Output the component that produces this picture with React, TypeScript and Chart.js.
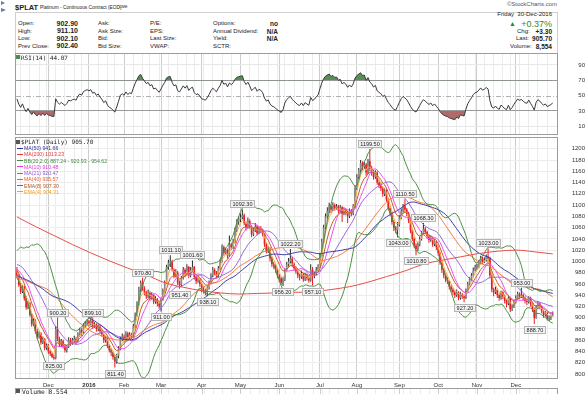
import React, { useEffect, useRef } from 'react';
import { Chart, registerables } from 'chart.js';

Chart.register(...registerables);

const FONT = '"Liberation Sans", Arial, sans-serif';
const MONO = '"DejaVu Sans Mono", monospace';

// closes of the sessions before the first drawn bar (they only feed the indicators)
const warmupCloses = [
  1000, 1005, 1010, 1020, 1018,
  1005, 998, 995, 988, 980, 972, 975, 968, 962, 958, 972, 980, 978, 960, 952, 935, 928, 922, 915, 905, 910,
  905, 912, 925, 940, 955, 972, 990, 1005, 1015, 1020, 1012, 1008, 1004, 996, 1000, 992, 985, 988, 992, 996, 980, 985,
  988, 990, 982,
];

// daily bars, 5-Nov-2015 .. 30-Dec-2016
const opens = [
  982, 975, 958, 946, 954, 934, 918, 926, 905, 888,
  895, 876, 866, 872, 856, 862, 846, 851, 840, 836,
  830, 828, 880, 862, 852, 858, 850, 842, 848, 860,
  856, 860, 862, 858, 870, 878, 874, 886, 890, 893,
  890, 894, 885, 888, 880, 884, 876, 870, 860, 864,
  850, 842, 838, 830, 822, 832, 845, 862, 866, 862,
  872, 865, 870, 868, 885, 905, 925, 950, 962, 952,
  945, 938, 944, 935, 940, 928, 932, 925, 920, 932,
  948, 962, 990, 998, 1000, 985, 975, 980, 962, 958,
  970, 985, 978, 990, 975, 985, 990, 972, 965, 968,
  960, 950, 948, 945, 952, 962, 975, 985, 980, 975,
  988, 1000, 1025, 1015, 1020, 1010, 1030, 1025, 1035, 1055,
  1070, 1075, 1078, 1082, 1068, 1060, 1072, 1062, 1048, 1055,
  1062, 1050, 1058, 1055, 1048, 1030, 1018, 1022, 1005, 995,
  992, 985, 975, 970, 962, 968, 985, 995, 1000, 1005,
  995, 988, 982, 975, 972, 978, 968, 975, 970, 966,
  985, 975, 978, 985, 990, 1010, 1035, 1060, 1080, 1090,
  1098, 1092, 1100, 1095, 1098, 1090, 1096, 1085, 1092, 1088,
  1080, 1090, 1085, 1098, 1130, 1150, 1162, 1175, 1168, 1172,
  1158, 1178, 1165, 1160, 1150, 1158, 1140, 1135, 1130, 1120,
  1125, 1110, 1095, 1085, 1070, 1060, 1055, 1065, 1078, 1090,
  1098, 1092, 1085, 1072, 1055, 1040, 1028, 1022, 1030, 1040,
  1050, 1058, 1052, 1045, 1038, 1042, 1030, 1035, 1025, 1015,
  998, 985, 975, 968, 965, 955, 950, 945, 940, 945,
  935, 942, 938, 935, 948, 960, 968, 975, 985, 990,
  992, 998, 1005, 1000, 1003, 1008, 1005, 975, 950, 945,
  950, 940, 935, 945, 938, 930, 925, 935, 915, 920,
  928, 935, 942, 938, 940, 935, 930, 928, 935, 925,
  915, 900, 918, 925, 920, 912, 905, 908, 898, 900, 902.9,
];
const highs = [
  990, 978, 962, 958, 957, 938, 930, 928, 908, 899,
  897, 880, 876, 874, 866, 864, 855, 853, 842, 838,
  834, 885, 900.2, 866, 862, 861, 853, 852, 865, 864,
  864, 868, 866, 874, 882, 881, 890, 894, 897, 896,
  898, 899.1, 892, 890, 888, 887, 879, 872, 868, 866,
  853, 846, 840, 834, 836, 849, 866, 872, 870, 876,
  875, 874, 873, 889, 909, 929, 955, 966, 970.8, 956,
  948, 950, 947, 945, 943, 938, 935, 928, 936, 952,
  966, 994, 1003, 1011.1, 1003, 988, 986, 983, 966, 974,
  990, 988, 995, 992, 990, 1001.6, 992, 975, 972, 970,
  963, 956, 951, 956, 966, 979, 990, 988, 983, 992,
  1004, 1030, 1028, 1024, 1023, 1046, 1033, 1040, 1060, 1075,
  1080, 1085, 1092.3, 1085, 1071, 1078, 1075, 1064, 1060, 1068,
  1065, 1062, 1063, 1058, 1050, 1033, 1027, 1025, 1008, 999,
  995, 988, 978, 973, 972, 988, 999, 1006, 1022.2, 1008,
  998, 991, 985, 978, 984, 980, 980, 978, 973, 995,
  990, 982, 990, 995, 1015, 1040, 1065, 1085, 1096, 1104,
  1101, 1105, 1103, 1102, 1100, 1100, 1098, 1096, 1094, 1090,
  1094, 1093, 1102, 1135, 1155, 1166, 1180, 1178, 1177, 1175,
  1182, 1199.5, 1170, 1163, 1162, 1160, 1145, 1140, 1133, 1130,
  1128, 1113, 1098, 1088, 1073, 1063, 1070, 1082, 1094, 1102,
  1110.5, 1095, 1088, 1075, 1058, 1043, 1032, 1034, 1044, 1054,
  1068.3, 1061, 1055, 1048, 1046, 1044, 1039, 1037, 1027, 1017,
  1000, 988, 978, 972, 967, 958, 953, 948, 950, 947,
  946, 944, 941, 952, 964, 972, 979, 989, 994, 996,
  1002, 1010, 1008, 1007, 1012, 1023, 1008, 978, 953, 955,
  952, 943, 948, 947, 941, 933, 938, 937, 924, 932,
  940, 946, 945, 953, 943, 938, 933, 938, 937, 928,
  918, 922, 928, 927, 922, 914, 912, 910, 904, 905, 911.1,
];
const lows = [
  970, 955, 942, 944, 930, 914, 915, 902, 884, 885,
  872, 862, 863, 852, 853, 842, 843, 836, 832, 828,
  825, 826, 858, 848, 848, 845, 838, 838, 846, 850,
  852, 855, 852, 856, 866, 868, 872, 882, 885, 884,
  886, 880, 882, 875, 876, 872, 866, 855, 856, 846,
  838, 832, 825, 811.4, 818, 828, 842, 858, 856, 858,
  860, 862, 862, 866, 882, 902, 922, 945, 948, 940,
  933, 935, 930, 932, 924, 925, 920, 916, 911, 930,
  945, 960, 985, 990, 982, 970, 972, 958, 951.4, 955,
  968, 972, 975, 970, 972, 982, 968, 960, 962, 955,
  945, 943, 940, 938.1, 950, 960, 972, 976, 970, 972,
  985, 998, 1010, 1012, 1005, 1008, 1020, 1022, 1032, 1052,
  1065, 1070, 1075, 1064, 1055, 1058, 1058, 1043, 1045, 1052,
  1046, 1048, 1050, 1044, 1026, 1014, 1015, 1000, 990, 987,
  980, 970, 963, 958, 956.2, 965, 982, 990, 996, 990,
  984, 978, 970, 966, 969, 964, 965, 966, 962, 964,
  957.1, 970, 975, 982, 988, 1008, 1032, 1057, 1076, 1086,
  1086, 1089, 1090, 1092, 1085, 1087, 1070, 1082, 1082, 1068,
  1077, 1080, 1082, 1095, 1127, 1146, 1158, 1162, 1164, 1152,
  1155, 1160, 1152, 1145, 1147, 1136, 1130, 1125, 1115, 1116,
  1106, 1090, 1080, 1065, 1054, 1050, 1043, 1062, 1075, 1087,
  1088, 1080, 1068, 1050, 1036, 1024, 1010.8, 1018, 1027, 1037,
  1047, 1048, 1040, 1033, 1035, 1026, 1027, 1020, 1010, 994,
  980, 970, 963, 960, 950, 945, 940, 935, 937, 931,
  932, 933, 927.2, 933, 945, 957, 965, 972, 982, 985,
  988, 995, 995, 997, 1000, 998, 970, 945, 938, 942,
  935, 930, 932, 933, 925, 918, 922, 910, 912, 917,
  925, 932, 933, 935, 930, 925, 922, 925, 920, 910,
  888.7, 898, 915, 915, 908, 900, 902, 895, 894, 896, 902.1,
];
const closes = [
  975, 958, 946, 954, 934, 918, 926, 905, 888, 895,
  876, 866, 872, 856, 862, 846, 851, 840, 836, 830,
  828, 880, 862, 852, 858, 850, 842, 848, 860, 856,
  860, 862, 858, 870, 878, 874, 886, 890, 893, 890,
  894, 885, 888, 880, 884, 876, 870, 860, 864, 850,
  842, 838, 830, 822, 832, 845, 862, 866, 862, 872,
  865, 870, 868, 885, 905, 925, 950, 962, 952, 945,
  938, 944, 935, 940, 928, 932, 925, 920, 932, 948,
  962, 990, 998, 1000, 985, 975, 980, 962, 958, 970,
  985, 978, 990, 975, 985, 990, 972, 965, 968, 960,
  950, 948, 945, 952, 962, 975, 985, 980, 975, 988,
  1000, 1025, 1015, 1020, 1010, 1030, 1025, 1035, 1055, 1070,
  1075, 1078, 1082, 1068, 1060, 1072, 1062, 1048, 1055, 1062,
  1050, 1058, 1055, 1048, 1030, 1018, 1022, 1005, 995, 992,
  985, 975, 970, 962, 968, 985, 995, 1000, 1005, 995,
  988, 982, 975, 972, 978, 968, 975, 970, 966, 985,
  975, 978, 985, 990, 1010, 1035, 1060, 1080, 1090, 1098,
  1092, 1100, 1095, 1098, 1090, 1096, 1085, 1092, 1088, 1080,
  1090, 1085, 1098, 1130, 1150, 1162, 1175, 1168, 1172, 1158,
  1178, 1165, 1160, 1150, 1158, 1140, 1135, 1130, 1120, 1125,
  1110, 1095, 1085, 1070, 1060, 1055, 1065, 1078, 1090, 1098,
  1092, 1085, 1072, 1055, 1040, 1028, 1022, 1030, 1040, 1050,
  1058, 1052, 1045, 1038, 1042, 1030, 1035, 1025, 1015, 998,
  985, 975, 968, 965, 955, 950, 945, 940, 945, 935,
  942, 938, 935, 948, 960, 968, 975, 985, 990, 992,
  998, 1005, 1000, 1003, 1008, 1005, 975, 950, 945, 950,
  940, 935, 945, 938, 930, 925, 935, 915, 920, 928,
  935, 942, 938, 940, 935, 930, 928, 935, 925, 915,
  900, 918, 925, 920, 912, 905, 908, 898, 900, 902.4, 905.7,
];

// MA(200) every 10 sessions
const ma200Idx = [0, 10, 20, 30, 40, 50, 60, 70, 80, 90, 100, 110, 120, 130, 140, 150, 160, 170, 180, 190, 200, 210, 220, 230, 240, 250, 260, 270, 280, 290];
const ma200Vals = [1079, 1062, 1046, 1030, 1015, 1001, 988, 976, 962, 954, 948, 944, 942, 943, 944, 945, 946, 950, 955, 963, 973, 983, 995, 1002, 1008, 1014, 1018, 1020, 1017, 1013.23];

// annotated extremes
const labelIdx = [20, 22, 41, 53, 68, 78, 83, 88, 95, 103, 122, 144, 148, 160, 191, 206, 210, 216, 220, 242, 255, 273, 280];
const labelSide = ['below', 'above', 'above', 'below', 'above', 'below', 'above', 'below', 'above', 'below', 'above', 'below', 'above', 'below', 'above', 'below', 'above', 'below', 'above', 'below', 'above', 'above', 'below'];

const monthLabels = ['Dec', '2016', 'Feb', 'Mar', 'Apr', 'May', 'Jun', 'Jul', 'Aug', 'Sep', 'Oct', 'Nov', 'Dec'];
const priceTicks = [800, 820, 840, 860, 880, 900, 920, 940, 960, 980, 1000, 1020, 1040, 1060, 1080, 1100, 1120, 1140, 1160, 1180, 1200];
const rsiTicks = [10, 30, 50, 70, 90];
const holidays = ['2015-11-26', '2015-12-25', '2016-01-01', '2016-01-18', '2016-02-15', '2016-03-25', '2016-05-30', '2016-07-04', '2016-09-05', '2016-11-24', '2016-12-26'];

const legendNames = ['MA(50) 941.66', 'MA(200) 1013.23', 'BB(20,2.0) 887.24 - 920.93 - 954.62', 'MA(10) 910.48', 'MA(21) 920.47', 'MA(40) 935.57', 'EMA(8) 907.30', 'EMA(4) 904.31'];
const legendColors = ['#30309a', '#e03a3a', '#3f8a3f', '#e03ce0', '#8c5ed6', '#f0602a', '#b0562a', '#f0a030'];
const lineColors = ['#3a3aa8', '#e8504a', '#4d9142', '#f050f0', '#9966dd', '#f47a3a', '#c0602c', '#f6b04a'];

const X_MIN = -0.5;
const X_MAX = 292.3;

// ---------- calendar ----------
function buildCalendar(n: number) {
  const out: Date[] = [];
  const d = new Date(Date.UTC(2015, 10, 5));
  while (out.length < n) {
    const dow = d.getUTCDay();
    const iso = d.toISOString().slice(0, 10);
    if (dow !== 0 && dow !== 6 && holidays.indexOf(iso) < 0) out.push(new Date(d.getTime()));
    d.setUTCDate(d.getUTCDate() + 1);
  }
  return out;
}
const dates = buildCalendar(closes.length);
const monthStarts: number[] = [];
const weekStarts: number[] = [];
for (let i = 1; i < dates.length; i++) {
  if (dates[i].getUTCMonth() !== dates[i - 1].getUTCMonth()) monthStarts.push(i);
  if (dates[i].getUTCDay() < dates[i - 1].getUTCDay()) weekStarts.push(i);
}
const xTicks = Array.from(new Set([...weekStarts, ...monthStarts])).sort((a, b) => a - b);

// ---------- indicators ----------
const allCloses = [...warmupCloses, ...closes];
const W = warmupCloses.length;
const N = closes.length;
function sma(n: number) {
  const out: number[] = [];
  for (let i = 0; i < N; i++) {
    const j = i + W;
    let s = 0;
    for (let k = j - n + 1; k <= j; k++) s += allCloses[k];
    out.push(s / n);
  }
  return out;
}
function ema(n: number) {
  const k = 2 / (n + 1);
  let e = 0;
  for (let i = 0; i < n; i++) e += allCloses[i];
  e /= n;
  const full: number[] = [];
  for (let i = n; i < allCloses.length; i++) {
    e = allCloses[i] * k + e * (1 - k);
    full[i] = e;
  }
  return closes.map((_, i) => full[i + W]);
}
function rsiCalc(n: number) {
  const out: number[] = [];
  let g = 0;
  let l = 0;
  for (let i = 1; i <= n; i++) {
    const d = allCloses[i] - allCloses[i - 1];
    if (d > 0) g += d; else l -= d;
  }
  g /= n; l /= n;
  out[n] = 100 - 100 / (1 + g / l);
  for (let i = n + 1; i < allCloses.length; i++) {
    const d = allCloses[i] - allCloses[i - 1];
    g = (g * (n - 1) + Math.max(d, 0)) / n;
    l = (l * (n - 1) + Math.max(-d, 0)) / n;
    out[i] = l === 0 ? 100 : 100 - 100 / (1 + g / l);
  }
  return closes.map((_, i) => out[i + W]);
}
const ma10 = sma(10);
const ma21 = sma(21);
const ma40 = sma(40);
const ma50 = sma(50);
const mid20 = sma(20);
const sd20 = closes.map((_, i) => {
  let s = 0;
  for (let k = i + W - 19; k <= i + W; k++) s += (allCloses[k] - mid20[i]) ** 2;
  return Math.sqrt(s / 20);
});
const bbUp = mid20.map((m, i) => m + 2 * sd20[i]);
const bbLo = mid20.map((m, i) => m - 2 * sd20[i]);
const ema4 = ema(4);
const ema8 = ema(8);
const rsi14 = rsiCalc(14);

const pts = (arr: number[]) => arr.map((y, x) => ({ x, y }));

const RED = '#e41e24';
const BLACK = '#2a2a2a';
const prevClose = (i: number) => (i === 0 ? warmupCloses[W - 1] : closes[i - 1]);
const candleColors = closes.map((c, i) => (c < prevClose(i) ? RED : BLACK));
const bodyColors = closes.map((c, i) => (c < prevClose(i) ? RED : c > opens[i] ? '#8a8a8a' : BLACK));

const monthSet = new Set(monthStarts);

function xScaleCfg(showLabels: boolean, height: number) {
  return {
    type: 'linear',
    min: X_MIN,
    max: X_MAX,
    offset: false,
    afterBuildTicks: (s: any) => { s.ticks = xTicks.map((v) => ({ value: v })); },
    afterFit: (s: any) => { s.height = height; s.paddingLeft = 0; s.paddingRight = 0; },
    grid: {
      color: (c: any) => (c.tick && monthSet.has(c.tick.value) ? '#cdcdcd' : '#ececec'),
      drawTicks: false,
      offset: false,
    },
    border: { display: false },
    ticks: {
      display: showLabels,
      autoSkip: false,
      maxRotation: 0,
      padding: 3,
      color: '#333',
      font: (c: any) => ({ family: FONT, size: 6, weight: c.tick && monthStarts.indexOf(c.tick.value) === 1 ? 'bold' : 'normal' }),
      callback: (v: any) => { const k = monthStarts.indexOf(v); return k >= 0 ? monthLabels[k] : ''; },
    },
  };
}

function yScaleCfg(min: number, max: number, ticks: number[], gridColor: any) {
  return {
    type: 'linear',
    position: 'right',
    min,
    max,
    afterBuildTicks: (s: any) => { s.ticks = ticks.map((v) => ({ value: v })); },
    afterFit: (s: any) => { s.width = 28; s.paddingTop = 0; s.paddingBottom = 0; },
    grid: { color: gridColor, drawTicks: false },
    border: { display: false },
    ticks: { padding: 2, crossAlign: 'far', color: '#333', font: { family: FONT, size: 6 }, callback: (v: any) => String(v) },
  };
}

const borderPlugin = {
  id: 'panelBorder',
  afterDraw(chart: any) {
    const { ctx, chartArea: a } = chart;
    ctx.save();
    ctx.strokeStyle = '#9c9c9c';
    ctx.lineWidth = 1;
    ctx.strokeRect(a.left - 0.5, a.top + 0.5, a.right - a.left + 1, a.bottom - a.top - 1);
    ctx.restore();
  },
};

const rsiPlugin = {
  id: 'rsiDecor',
  beforeDatasetsDraw(chart: any) {
    const { ctx, chartArea: a, scales } = chart;
    const y = Math.round(scales.y.getPixelForValue(50)) + 0.5;
    ctx.save();
    ctx.strokeStyle = '#b0b0b0';
    ctx.lineWidth = 1;
    ctx.setLineDash([5, 2, 1, 2]);
    ctx.beginPath();
    ctx.moveTo(a.left, y);
    ctx.lineTo(a.right, y);
    ctx.stroke();
    ctx.restore();
  },
};

const pricePlugin = {
  id: 'priceDecor',
  afterDatasetsDraw(chart: any) {
    const { ctx, scales } = chart;
    ctx.save();
    ctx.font = `5.5px ${FONT}`;
    ctx.textAlign = 'center';
    ctx.textBaseline = 'middle';
    labelIdx.forEach((idx, k) => {
      const above = labelSide[k] === 'above';
      const v = above ? highs[idx] : lows[idx];
      const txt = v.toFixed(2);
      const px = scales.x.getPixelForValue(idx);
      const py = scales.y.getPixelForValue(v);
      const w = Math.round(ctx.measureText(txt).width + 4);
      const h = 7;
      const top = Math.round(above ? py - 2 - h : py + 2) + 0.5;
      const left = Math.round(px - w / 2) + 0.5;
      ctx.fillStyle = '#f2f2f2';
      ctx.fillRect(left, top, w, h);
      ctx.strokeStyle = '#b5b5b5';
      ctx.lineWidth = 1;
      ctx.strokeRect(left, top, w, h);
      ctx.fillStyle = '#222';
      ctx.fillText(txt, left + w / 2, top + h / 2 + 0.3);
    });
    ctx.restore();
  },
  afterDraw(chart: any) {
    const { ctx, chartArea: a, scales } = chart;
    ctx.save();
    ctx.lineWidth = 1;
    xTicks.forEach((v) => {
      const x = Math.round(scales.x.getPixelForValue(v)) + 0.5;
      ctx.strokeStyle = monthSet.has(v) ? '#cdcdcd' : '#ececec';
      ctx.beginPath();
      ctx.moveTo(x, 252);
      ctx.lineTo(x, 257);
      ctx.stroke();
    });
    ctx.strokeStyle = '#9c9c9c';
    ctx.strokeRect(a.left - 0.5, 251.5, a.right - a.left + 1, 20);
    ctx.restore();
  },
};

function line(data: any[], color: string, extra: any = {}) {
  return { type: 'line', data, borderColor: color, borderWidth: 1, pointRadius: 0, fill: false, tension: 0, order: 1, ...extra };
}

type TP = { x: number; y: number; t: string; s?: number; b?: boolean; c?: string; r?: boolean; f?: string };
function Txt({ x, y, t, s = 6, b = false, c = '#222', r = false, f = FONT }: TP) {
  const style: any = {
    position: 'absolute', top: y - s * 0.6, fontSize: s, lineHeight: `${s * 1.2}px`,
    fontWeight: b ? 700 : 400, color: c, fontFamily: f, whiteSpace: 'pre',
  };
  if (r) { style.right = 585 - x; style.textAlign = 'right'; } else { style.left = x; }
  return <div style={style}>{t}</div>;
}

const rowY = [24, 31.5, 39, 46.5];
const col1 = ['Open:', 'High:', 'Low:', 'Prev Close:'];
const col1v = ['902.90', '911.10', '902.10', '902.40'];
const col2 = ['Ask:', 'Ask Size:', 'Bid:', 'Bid Size:'];
const col3 = ['P/E:', 'EPS:', 'Last Size:', 'VWAP:'];
const col4 = ['Options:', 'Annual Dividend:', 'Yield:', 'SCTR:'];
const col4v = ['no', 'N/A', 'N/A', ''];

export default function App() {
  const rsiRef = useRef<HTMLCanvasElement>(null);
  const priceRef = useRef<HTMLCanvasElement>(null);

  useEffect(() => {
    const rsiChart = new Chart(rsiRef.current as HTMLCanvasElement, {
      type: 'line',
      data: {
        datasets: [
          line(pts(rsi14), '#3a3a3a', { fill: { target: { value: 70 }, above: 'rgba(70,130,70,0.9)', below: 'rgba(0,0,0,0)' } }),
          line(pts(rsi14), 'rgba(0,0,0,0)', { order: 2, fill: { target: { value: 30 }, above: 'rgba(0,0,0,0)', below: 'rgba(168,90,90,0.9)' } }),
        ],
      },
      options: {
        responsive: false,
        animation: false,
        devicePixelRatio: 1,
        events: [],
        layout: { padding: { left: 16, right: 0, top: 0, bottom: 1 } },
        plugins: { legend: { display: false }, tooltip: { enabled: false } },
        scales: {
          x: xScaleCfg(false, 0),
          y: yScaleCfg(-1.3, 105.6, rsiTicks, (c: any) => {
            const v = c.tick && c.tick.value;
            if (v === 30 || v === 70) return '#9a9a9a';
            if (v === 50) return 'rgba(0,0,0,0)';
            return '#e8e8e8';
          }),
        },
      } as any,
      plugins: [rsiPlugin, borderPlugin],
    } as any);

    const priceChart = new Chart(priceRef.current as HTMLCanvasElement, {
      type: 'bar',
      data: {
        datasets: [
          {
            type: 'bar',
            data: closes.map((_, i) => ({ x: i, y: [lows[i], highs[i]] })),
            backgroundColor: candleColors,
            borderWidth: 0,
            grouped: false,
            categoryPercentage: 1,
            barPercentage: 0.55,
            order: 3,
          },
          {
            type: 'bar',
            data: closes.map((c, i) => ({ x: i, y: [opens[i], c] })),
            backgroundColor: bodyColors,
            borderWidth: 0,
            grouped: false,
            categoryPercentage: 1,
            barPercentage: 0.9,
            order: 2,
          },
          line(ma200Idx.map((x, k) => ({ x, y: ma200Vals[k] })), lineColors[1], { tension: 0.4, cubicInterpolationMode: 'monotone' }),
          line(pts(bbUp), lineColors[2]),
          line(pts(bbLo), lineColors[2]),
          line(pts(ma50), lineColors[0]),
          line(pts(ma40), lineColors[5]),
          line(pts(ma21), lineColors[4]),
          line(pts(ma10), lineColors[3]),
          line(pts(ema8), lineColors[6]),
          line(pts(ema4), lineColors[7]),
        ],
      },
      options: {
        responsive: false,
        animation: false,
        devicePixelRatio: 1,
        events: [],
        layout: { padding: { left: 16, right: 0, top: 0, bottom: 0 } },
        plugins: { legend: { display: false }, tooltip: { enabled: false } },
        scales: {
          x: xScaleCfg(true, 15),
          y: yScaleCfg(791, 1221, priceTicks, '#ececec'),
        },
      } as any,
      plugins: [pricePlugin, borderPlugin],
    } as any);

    return () => {
      rsiChart.destroy();
      priceChart.destroy();
    };
  }, []);

  return (
    <div style={{ position: 'absolute', left: 0, top: 0, width: 585, height: 394, background: '#fff', overflow: 'hidden', fontFamily: FONT, color: '#222' }}>
      <div style={{ position: 'absolute', left: 1, top: 1, width: 0, height: 0, borderTop: '2px solid transparent', borderBottom: '2px solid transparent', borderLeft: '4px solid #5b7fa8' }} />
      <div style={{ position: 'absolute', left: 1, top: 8, width: 0, height: 0, borderTop: '2.5px solid transparent', borderBottom: '2.5px solid transparent', borderLeft: '5px solid #5b7fa8' }} />
      <Txt x={15} y={7} t="$PLAT" s={7.5} b />
      <Txt x={40} y={7.5} t="Platinum - Continuous Contract (EOD)" s={4.8} />
      <Txt x={119} y={7.6} t="CME" s={3.8} />
      <Txt x={557} y={5} t="©StockCharts.com" s={6} c="#555" r />
      <div style={{ position: 'absolute', left: 15, top: 12, width: 541, height: 40, border: '1px solid #cfcfcf' }} />
      {rowY.map((y, k) => (
        <React.Fragment key={k}>
          <Txt x={18} y={y} t={col1[k]} />
          <Txt x={78} y={y} t={col1v[k]} s={7} b r />
          <Txt x={98} y={y} t={col2[k]} />
          <Txt x={150} y={y} t={col3[k]} />
          <Txt x={213} y={y} t={col4[k]} />
          <Txt x={278} y={y} t={col4v[k]} s={6.5} b r />
        </React.Fragment>
      ))}
      <Txt x={552} y={15} t="Friday  30-Dec-2016" s={6} r />
      <Txt x={509} y={24} t="▲" s={7} c="#2f8a2f" />
      <Txt x={552} y={24} t="+0.37%" s={9} c="#2f8a2f" r />
      <Txt x={517} y={31.5} t="Chg:" />
      <Txt x={552} y={31.5} t="+3.30" s={6.5} b r />
      <Txt x={516} y={39} t="Last:" />
      <Txt x={552} y={39} t="905.70" s={6.5} b r />
      <Txt x={510} y={46.5} t="Volume:" />
      <Txt x={552} y={46.5} t="8,554" s={6.5} b r />

      <canvas ref={rsiRef} width={585} height={83} style={{ position: 'absolute', left: 0, top: 53, width: 585, height: 83 }} />
      <canvas ref={priceRef} width={585} height={257} style={{ position: 'absolute', left: 0, top: 137, width: 585, height: 257 }} />

      <div style={{ position: 'absolute', left: 16, top: 55, width: 4, height: 4, background: '#4d8a4d' }} />
      <Txt x={21} y={57.5} t="RSI(14) 44.07" s={6} f={MONO} />

      <div style={{ position: 'absolute', left: 16, top: 140, width: 4, height: 4, background: '#555' }} />
      <Txt x={21} y={142} t="$PLAT (Daily) 905.70" s={6} f={MONO} />
      {legendNames.map((name, k) => (
        <React.Fragment key={name}>
          <div style={{ position: 'absolute', left: 17, top: 148 + k * 6.25 - 0.5, width: 6, height: 1.2, background: legendColors[k] }} />
          <Txt x={24} y={148.3 + k * 6.25} t={name} s={5.2} c={legendColors[k]} />
        </React.Fragment>
      ))}

      <div style={{ position: 'absolute', left: 16, top: 389, width: 4, height: 4, background: '#555' }} />
      <Txt x={22} y={391.5} t="Volume 8,554" s={6.3} f={MONO} />
    </div>
  );
}
